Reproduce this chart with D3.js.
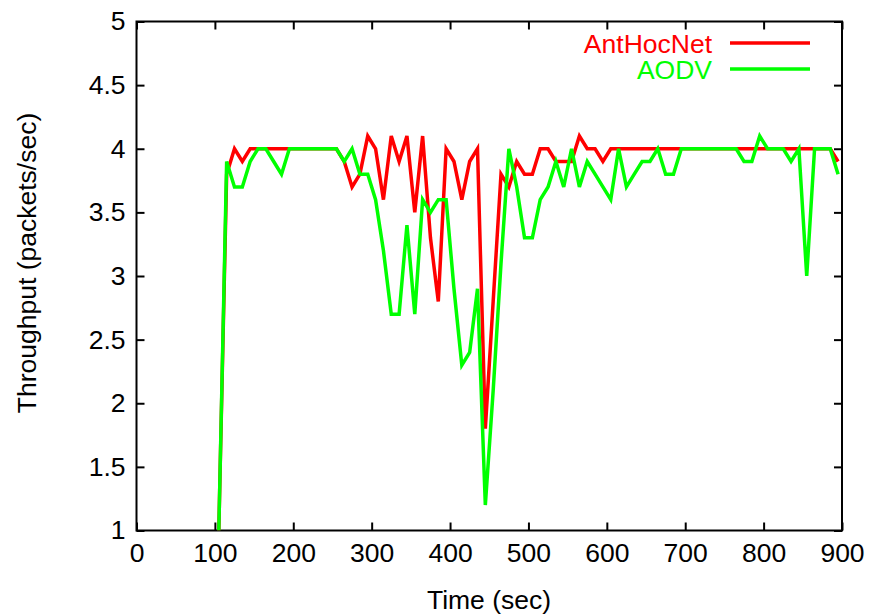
<!DOCTYPE html>
<html>
<head>
<meta charset="utf-8">
<script src="https://cdn.jsdelivr.net/npm/d3@7"></script>
<style>
  html, body { margin: 0; padding: 0; background: #fff; }
  svg text { font-family: "Liberation Sans", Arial, Helvetica, sans-serif; }
</style>
</head>
<body>
<svg id="chart" width="875" height="614"></svg>
<script>
// Sample times (sec), one sample every 10 s
const times = d3.range(105, 896, 10);

// Throughput of each protocol (packets/sec)
const antHocNet = [
  1.0, 3.8, 4.0, 3.9, 4.0,
  4.0, 4.0, 4.0, 4.0, 4.0, 4.0, 4.0, 4.0, 4.0, 4.0, 4.0,
  3.9, 3.7, 3.8, 4.1, 4.0, 3.6, 4.1, 3.9, 4.1, 3.5,
  4.1, 3.3, 2.8, 4.0, 3.9, 3.6, 3.9, 4.0, 1.8, 2.8,
  3.8, 3.7, 3.9, 3.8, 3.8, 4.0, 4.0, 3.9, 3.9, 3.9,
  4.1, 4.0, 4.0, 3.9,
  4.0, 4.0, 4.0, 4.0, 4.0, 4.0, 4.0, 4.0, 4.0, 4.0,
  4.0, 4.0, 4.0, 4.0, 4.0, 4.0, 4.0, 4.0, 4.0, 4.0,
  4.0, 4.0, 4.0, 4.0, 4.0, 4.0, 4.0, 4.0, 4.0,
  3.9
];
const aodv = [
  1.0, 3.9, 3.7, 3.7, 3.9, 4.0, 4.0, 3.9, 3.8, 4.0,
  4.0, 4.0, 4.0, 4.0, 4.0, 4.0,
  3.9, 4.0, 3.8, 3.8, 3.6, 3.2, 2.7, 2.7, 3.4, 2.7,
  3.6, 3.5, 3.6, 3.6, 2.9, 2.3, 2.4, 2.9, 1.2, 2.1,
  3.1, 4.0, 3.7, 3.3, 3.3, 3.6, 3.7, 3.9, 3.7, 4.0,
  3.7, 3.9, 3.8, 3.7, 3.6, 4.0, 3.7, 3.8, 3.9, 3.9,
  4.0, 3.8, 3.8, 4.0,
  4.0, 4.0, 4.0, 4.0, 4.0, 4.0, 4.0,
  3.9, 3.9, 4.1, 4.0, 4.0, 4.0, 3.9, 4.0, 3.0, 4.0,
  4.0, 4.0, 3.8
];

const seriesNames = ["AntHocNet", "AODV"];
const seriesColors = ["#ff0000", "#00ff00"];

const xTicks = d3.range(0, 901, 100);
const yTicks = d3.range(1, 5.01, 0.5);

const svg = d3.select("#chart");
const plot = { left: 136.5, right: 842, top: 21.5, bottom: 530.5 };

const x = d3.scaleLinear().domain([0, 900]).range([plot.left, plot.right]);
const y = d3.scaleLinear().domain([1, 5]).range([plot.bottom, plot.top]);

svg.append("defs").append("clipPath").attr("id", "plotClip")
  .append("rect")
  .attr("x", plot.left).attr("y", plot.top)
  .attr("width", plot.right - plot.left).attr("height", plot.bottom - plot.top);

const fontSize = 26.5;
const yFmt = d => (Number.isInteger(d) ? d3.format("d")(d) : d3.format(".1f")(d));

// Bottom axis with labels, top axis mirrored without labels
const xBottom = d3.axisBottom(x).tickValues(xTicks).tickSize(-8).tickPadding(13).tickFormat(d3.format("d"));
const xTop = d3.axisTop(x).tickValues(xTicks).tickSize(-8).tickFormat("");
const yLeft = d3.axisLeft(y).tickValues(yTicks).tickSize(-8).tickPadding(11).tickFormat(yFmt);
const yRight = d3.axisRight(y).tickValues(yTicks).tickSize(-8).tickFormat("");

function styleAxis(g) {
  g.select(".domain").remove();
  g.selectAll(".tick line").attr("stroke", "#000").attr("stroke-width", 2);
  g.selectAll(".tick text").attr("fill", "#000").attr("font-size", fontSize)
    .attr("font-family", "Liberation Sans, Arial, sans-serif");
}

svg.append("g").attr("transform", `translate(0,${plot.bottom})`).call(xBottom).call(styleAxis);
svg.append("g").attr("transform", `translate(0,${plot.top})`).call(xTop).call(styleAxis);
svg.append("g").attr("transform", `translate(${plot.left},0)`).call(yLeft).call(styleAxis);
svg.append("g").attr("transform", `translate(${plot.right},0)`).call(yRight).call(styleAxis);

// Frame
svg.append("rect")
  .attr("x", plot.left).attr("y", plot.top)
  .attr("width", plot.right - plot.left).attr("height", plot.bottom - plot.top)
  .attr("fill", "none").attr("stroke", "#000").attr("stroke-width", 2);

// Series lines
const line = d3.line().x((d, i) => x(times[i])).y(d => y(d));
const allSeries = [antHocNet, aodv];
svg.append("g").attr("clip-path", "url(#plotClip)")
  .selectAll("path").data(allSeries).join("path")
  .attr("d", d => line(d))
  .attr("fill", "none")
  .attr("stroke", (d, i) => seriesColors[i])
  .attr("stroke-width", 3.5)
  .attr("stroke-linejoin", "miter");

// Legend
const legend = svg.append("g");
seriesNames.forEach((name, i) => {
  const ly = 44 + i * 26;
  legend.append("text")
    .attr("x", 712).attr("y", ly).attr("dy", "0.35em")
    .attr("text-anchor", "end").attr("font-size", fontSize)
    .attr("fill", seriesColors[i]).text(name);
  legend.append("line")
    .attr("x1", 730).attr("x2", 810).attr("y1", ly - 1).attr("y2", ly - 1)
    .attr("stroke", seriesColors[i]).attr("stroke-width", 3.5);
});

// Axis titles
svg.append("text")
  .attr("x", 489).attr("y", 609)
  .attr("text-anchor", "middle").attr("font-size", fontSize).attr("fill", "#000")
  .text("Time (sec)");
svg.append("text")
  .attr("transform", "translate(36,263) rotate(-90)")
  .attr("text-anchor", "middle").attr("font-size", fontSize).attr("fill", "#000")
  .text("Throughput (packets/sec)");
</script>
</body>
</html>
